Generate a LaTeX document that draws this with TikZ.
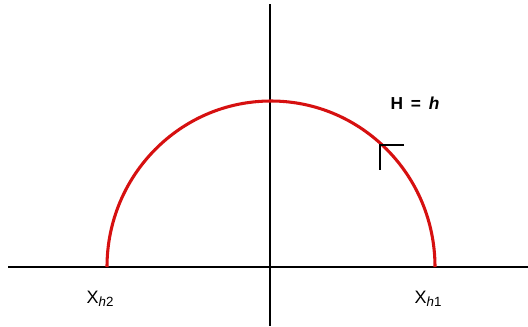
\documentclass[tikz,border=0pt]{standalone}
\usepackage{fontspec}
\setmainfont{Liberation Sans}
\definecolor{courbe}{RGB}{214,16,16}
\newcommand{\axe}[2]{\draw[line width=1.1pt] (#1) -- (#2)}
\newcommand{\ind}[1]{\raisebox{-0.3ex}{\fontsize{10}{12}\selectfont #1}}
\tikzset{epais/.style={line width=2.3pt},
	etiq/.style={inner sep=0pt,font=\fontsize{13.5}{15}\selectfont}}

\begin{document}
\begin{tikzpicture}[x=0.75pt,y=-0.75pt]
	\useasboundingbox (0,0) rectangle (528,326);
	\coordinate (ouest) at (8,267);
	\coordinate (est) at (528,267);
	\coordinate (nord) at (270,4);
	\coordinate (sud) at (270,326);
	\axe{ouest}{est};
	\axe{nord}{sud};
	\draw[courbe,epais] (435,267) arc[start angle=0,end angle=-180,x radius=164,y radius=166];
	% fleche
	\coordinate (pointe) at (380,145);
	\coordinate (bras1) at (404,145);
	\coordinate (bras2) at (380,170);
	\draw[line width=1.6pt] (bras1) -- (pointe) -- (bras2);
	\node[etiq,font=\fontsize{13}{15}\selectfont\bfseries] (hlab) at (415,103) {H\hspace{0.45em}=\hspace{0.45em}\textit{h}};
	\node[etiq] (xh2) at (100,299) {X\ind{\textit{h}2}};
	\node[etiq] (xh1) at (428,299) {X\ind{\textit{h}1}};
\end{tikzpicture}
\end{document}
